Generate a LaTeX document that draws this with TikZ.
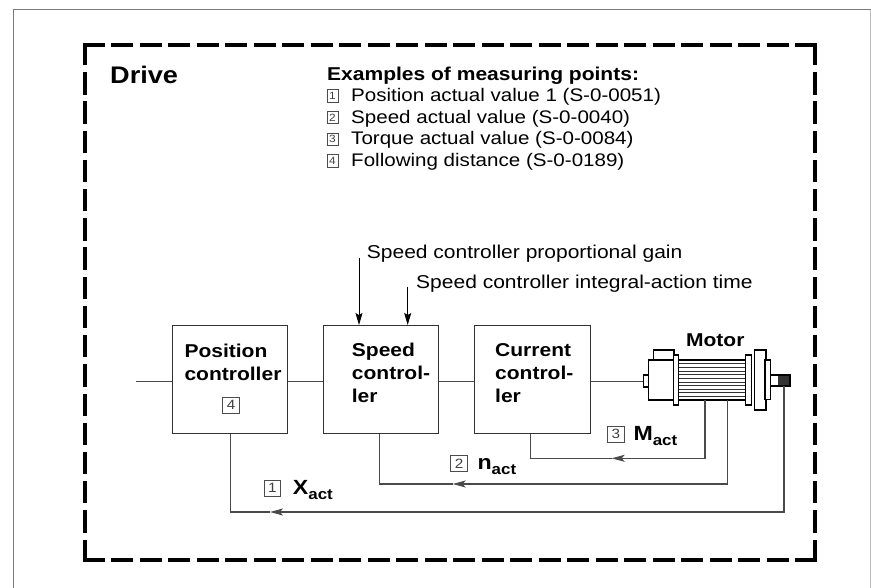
\documentclass[tikz,border=0pt]{standalone}
\usepackage{fontspec}
\setmainfont{Liberation Sans}[FakeStretch=1.13]
\usetikzlibrary{arrows.meta}

\definecolor{framegray}{HTML}{7A7A7A}
\definecolor{wiregray}{HTML}{4A4A4A}
\definecolor{boxgray}{HTML}{333333}

\begin{document}
\begin{tikzpicture}[x=1pt,y=-1pt,
  ctrlbox/.style={draw=boxgray, line width=1.1pt, minimum width=115.6pt,
    minimum height=107.5pt, inner sep=0pt, anchor=north west},
  blocktext/.style={anchor=north west, align=left, inner sep=0pt,
    font=\fontsize{18.6}{23}\selectfont\bfseries},
  wire/.style={draw=wiregray, line width=1.05pt},
  tipL/.style={-{Stealth[length=13pt,width=7pt,inset=3pt]}},
  tipD/.style={-{Stealth[length=12pt,width=7pt,inset=2pt]}},
  numbox/.style={draw=black!70, line width=0.7pt, inner sep=0pt,
    minimum width=16.5pt, minimum height=16pt,
    font=\fontsize{13.5}{13.5}\selectfont\color{black!75}},
  listbox/.style={draw=black!70, line width=0.6pt, inner sep=0pt,
    minimum width=11pt, minimum height=12.5pt,
    font=\fontsize{10.5}{10.5}\selectfont\color{black!75}},
  listtext/.style={anchor=base west, inner sep=0pt,
    font=\fontsize{18.2}{22}\selectfont},
  partext/.style={anchor=base west, inner sep=0pt,
    font=\fontsize{18.6}{22}\selectfont},
  fblabel/.style={anchor=base west, inner sep=0pt,
    font=\fontsize{20.5}{22}\selectfont\bfseries},
  motor/.style={draw=black, line width=1.4pt, fill=white},
  rib/.style={draw=black!80, line width=0.6pt},
  dashframe/.style={draw=black, line width=4pt}
]
\useasboundingbox (0,0) rectangle (871,588);

% outer sheet border
\draw[framegray, line width=1pt] (13,588) -- (13,10) -- (870.5,10);
\draw[black!25, line width=0.8pt] (870.5,10) -- (870.5,588);

% dashed drive boundary, each side starting and ending on a dash
\draw[dashframe, dash pattern=on 21.77pt off 6.72pt] (83,45) -- (817,45);
\draw[dashframe, dash pattern=on 21.77pt off 6.72pt] (83,560) -- (817,560);
\draw[dashframe, dash pattern=on 22.32pt off 6.89pt] (85,43) -- (85,562);
\draw[dashframe, dash pattern=on 22.32pt off 6.89pt] (815,43) -- (815,562);

% headings
\node[anchor=base west, inner sep=0pt, font=\fontsize{24}{26}\selectfont\bfseries]
  (drive) at (110,83.5) {Drive};
\node[anchor=base west, inner sep=0pt, font=\fontsize{18.6}{22}\selectfont\bfseries]
  (extitle) at (327,80.5) {Examples of measuring points:};

% list of measuring points
\node[listbox] (lb1) at (332.5,95.8) {1};
\node[listtext] (lt1) at (351,101.5) {Position actual value 1 (S-0-0051)};
\node[listbox] (lb2) at (332.5,117.5) {2};
\node[listtext] (lt2) at (351,123.2) {Speed actual value (S-0-0040)};
\node[listbox] (lb3) at (332.5,139.2) {3};
\node[listtext] (lt3) at (351,144.9) {Torque actual value (S-0-0084)};
\node[listbox] (lb4) at (332.5,160.9) {4};
\node[listtext] (lt4) at (351,166.6) {Following distance (S-0-0189)};

% controller blocks
\coordinate (sig) at (0,381.5);
\node[ctrlbox] (pos) at (171.7,325) {};
\node[ctrlbox] (spd) at (322.7,325) {};
\node[ctrlbox] (cur) at (474.3,325) {};

\node[blocktext] (postxt) at (184.3,343.4) {Position\\controller};
\node[numbox] (nb4) at (231,405) {4};
\node[blocktext] (spdtxt) at (351.7,343.2) {Speed\\control-\\ler};
\node[blocktext] (curtxt) at (495,343.2) {Current\\control-\\ler};

% speed controller parameters
\node[partext] (kp) at (366.7,258.3) {Speed controller proportional gain};
\node[partext] (tn) at (416,288.3) {Speed controller integral-action time};
\coordinate (kpin) at (359,258);
\coordinate (tnin) at (407.7,286.7);
\draw[draw=black, line width=1pt, tipD] (kpin) -- (kpin |- spd.north);
\draw[draw=black, line width=1pt, tipD] (tnin) -- (tnin |- spd.north);

% motor
\coordinate (mnub) at (643.3,381.5);
\draw[motor] (643.3,375) rectangle (648.3,387);
\draw[motor] (653.3,350) rectangle (674,360);
\draw[motor] (648.3,360) rectangle (675,400);
\draw[motor] (678.7,360) rectangle (746,400);
\foreach \k in {1,...,10}
  \draw[rib] (678.7,{360+\k*40/11}) -- (746,{360+\k*40/11});
\draw[motor] (673.3,355) rectangle (678.7,405);
\draw[motor] (745.3,355) rectangle (751.7,405);
\draw[motor] (754.3,350) rectangle (766,410);
\draw[motor] (765,360) rectangle (770.7,399.3);
\draw[motor] (770.7,375) rectangle (790,386);
\fill[black!80] (778,375.7) rectangle (789.3,385.3);
\node[anchor=base, inner sep=0pt, font=\fontsize{18.6}{22}\selectfont\bfseries]
  (motorlbl) at (715.3,346) {Motor};

% forward signal path
\draw[wire] (136,381.5) -- (pos.west |- sig);
\draw[wire] (pos.east |- sig) -- (spd.west |- sig);
\draw[wire] (spd.east |- sig) -- (cur.west |- sig);
\draw[wire] (cur.east |- sig) -- (mnub);

% feedback paths
\coordinate (mtap) at (705,400);
\coordinate (marr) at (611.7,458.3);
\draw[wire, tipL] (mtap) |- (marr);
\draw[wire] (marr) -| ([xshift=56.4pt]cur.south west);

\coordinate (ntap) at (727.7,400);
\coordinate (narr) at (452.7,484);
\draw[wire, tipL] (ntap) |- (narr);
\draw[wire] (narr) -| ([xshift=56.6pt]spd.south west);

\coordinate (xtap) at (784,386);
\coordinate (xarr) at (270,512);
\draw[wire, tipL] (xtap) |- (xarr);
\draw[wire] (xarr) -| ([xshift=59pt]pos.south west);

% feedback labels
\node[numbox] (nb3) at (615.8,434) {3};
\node[fblabel] (mact) at (633.3,440)
  {M\raisebox{-5pt}{\fontsize{15}{15}\selectfont act}};
\node[numbox] (nb2) at (459,463.8) {2};
\node[fblabel] (nact) at (477.3,469.3)
  {n\raisebox{-5pt}{\fontsize{15}{15}\selectfont act}};
\node[numbox] (nb1) at (272.3,488.3) {1};
\node[fblabel] (xact) at (292.7,494)
  {X\raisebox{-5pt}{\fontsize{15}{15}\selectfont act}};
\end{tikzpicture}
\end{document}
